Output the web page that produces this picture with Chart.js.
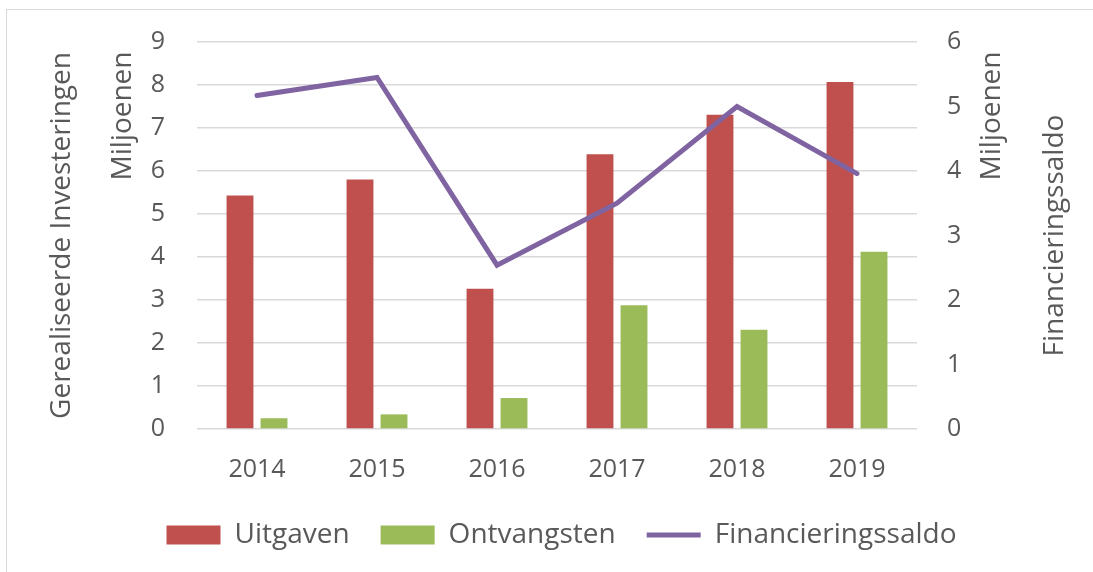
<!DOCTYPE html>
<html>
<head>
<meta charset="utf-8">
<script src="https://cdn.jsdelivr.net/npm/chart.js@4/dist/chart.umd.min.js"></script>
<style>
  html, body { margin: 0; padding: 0; background: #fff; }
  #wrap { position: relative; width: 1093px; height: 572px; overflow: hidden; }
  #frame { position: absolute; left: 6px; top: 9px; width: 1100px; height: 600px; border: 1px solid #d9d9d9; box-sizing: border-box; }
  canvas { position: absolute; left: 0; top: 0; }
</style>
</head>
<body>
<div id="wrap">
  <div id="frame"></div>
  <canvas id="chart" width="1093" height="572"></canvas>
</div>
<script>
const YEARS = ['2014', '2015', '2016', '2017', '2018', '2019'];
const UITGAVEN = [5.43, 5.80, 3.26, 6.39, 7.31, 8.07];
const ONTVANGSTEN = [0.25, 0.34, 0.72, 2.88, 2.31, 4.12];
const FINANCIERINGSSALDO = [5.17, 5.45, 2.54, 3.50, 5.00, 3.96];

const FONT = 'Open Sans';
const TEXT = '#595959';
const GRID = '#d9d9d9';

// Excel style axis texts: "Miljoenen" unit labels at the top of both value axes,
// and the right axis title which reads bottom-to-top
const axisTexts = {
    id: 'axisTexts',
    afterDraw(chart) {
        const ctx = chart.ctx;
        const y = chart.scales.y;
        const mid = (y.top + y.bottom) / 2;
        const items = [
            ['Miljoenen', 123, y.top + 74],
            ['Miljoenen', 992, y.top + 74],
            ['Financieringssaldo', 1055, mid],
        ];
        ctx.save();
        ctx.font = '28px "' + FONT + '"';
        ctx.fillStyle = TEXT;
        ctx.textAlign = 'center';
        ctx.textBaseline = 'middle';
        items.forEach(([txt, x, cy]) => {
            ctx.save();
            ctx.translate(x, cy);
            ctx.rotate(-Math.PI / 2);
            ctx.fillText(txt, 0, 0);
            ctx.restore();
        });
        ctx.restore();
    }
};

new Chart(document.getElementById('chart').getContext('2d'), {
    type: 'bar',
    data: {
        labels: YEARS,
        datasets: [
            { label: 'Uitgaven', data: UITGAVEN, backgroundColor: '#c0504d', yAxisID: 'y', order: 1,
              categoryPercentage: 0.567, barPercentage: 0.79, pointStyle: 'rect' },
            { label: 'Ontvangsten', data: ONTVANGSTEN, backgroundColor: '#9bbb59', yAxisID: 'y', order: 1,
              categoryPercentage: 0.567, barPercentage: 0.79, pointStyle: 'rect' },
            { label: 'Financieringssaldo', type: 'line', data: FINANCIERINGSSALDO, yAxisID: 'y1', order: 0,
              borderColor: '#8064a2', backgroundColor: '#8064a2', borderWidth: 5, pointRadius: 0,
              tension: 0, borderCapStyle: 'round', borderJoinStyle: 'miter', pointStyle: 'line' },
        ],
    },
    options: {
        responsive: false,
        animation: false,
        layout: { padding: { left: 30, right: 0, top: 0, bottom: 13 } },
        plugins: {
            tooltip: { enabled: false },
            legend: {
                position: 'bottom',
                labels: {
                    usePointStyle: true,
                    pointStyleWidth: 54,
                    boxHeight: 19,
                    padding: 31,
                    color: TEXT,
                    font: { family: FONT, size: 28 },
                    sort: (a, b) => a.datasetIndex - b.datasetIndex,
                },
            },
        },
        scales: {
            x: {
                grid: { display: false, drawTicks: false },
                border: { display: false },
                ticks: { color: TEXT, font: { family: FONT, size: 25 }, padding: 26 },
                afterFit(scale) { scale.height = 61; },
            },
            y: {
                position: 'left',
                min: 0, max: 9,
                ticks: { stepSize: 1, color: TEXT, font: { family: FONT, size: 25 }, padding: 27 },
                grid: { color: GRID, lineWidth: 1.5, drawTicks: true, tickLength: 5, tickColor: 'rgba(0,0,0,0)' },
                border: { display: false },
                title: { display: true, text: 'Gerealiseerde Investeringen', color: TEXT,
                         font: { family: FONT, size: 28 }, padding: { top: 15, bottom: 0 } },
                afterFit(scale) { scale.width = 167; },
            },
            y1: {
                position: 'right',
                min: 0, max: 6,
                ticks: { stepSize: 1, color: TEXT, font: { family: FONT, size: 25 }, padding: 27 },
                grid: { drawOnChartArea: false, drawTicks: true, tickLength: 3, tickColor: 'rgba(0,0,0,0)' },
                border: { display: false },
                afterFit(scale) { scale.width = 176; },
            },
        },
    },
    plugins: [axisTexts],
});
</script>
</body>
</html>
